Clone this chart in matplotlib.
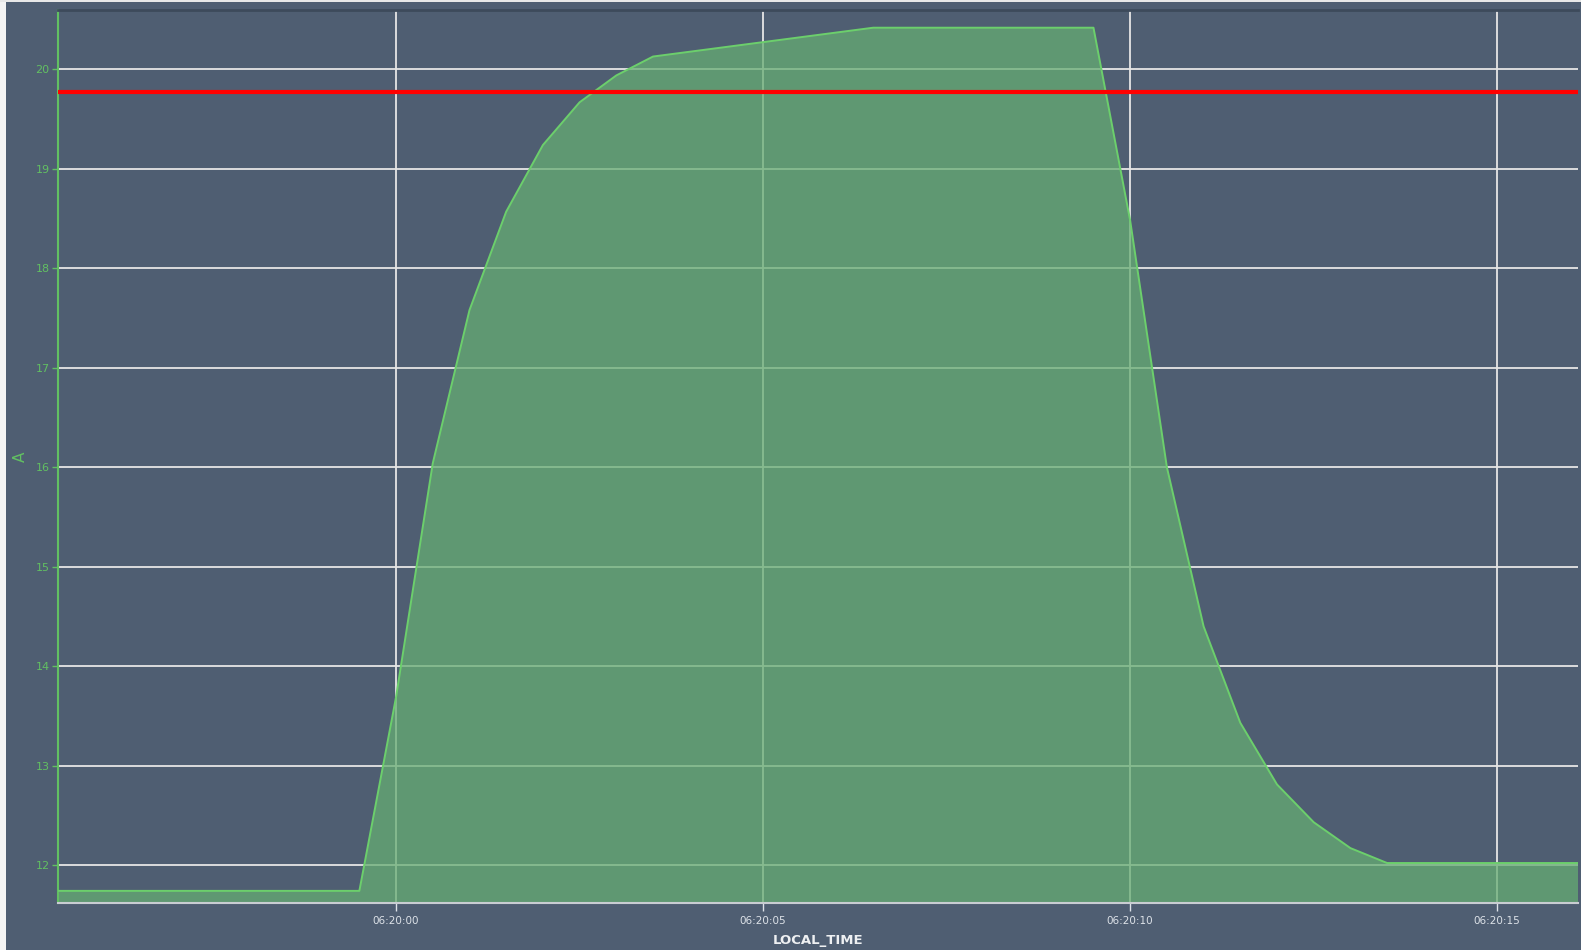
import datetime as dt
import matplotlib
matplotlib.use("Agg")
import matplotlib.pyplot as plt
import matplotlib.dates as mdates
from matplotlib.patches import Rectangle

# seconds relative to 06:20:00 and current values (A)
t_sec = [-5.0, -0.5, 0.0, 0.5, 1.0, 1.5, 2.0, 2.5, 3.0, 3.5, 6.5, 9.5,
         10.0, 10.5, 11.0, 11.5, 12.0, 12.5, 13.0, 13.5, 16.5]
amps = [11.74, 11.74, 13.69, 16.04, 17.58, 18.57, 19.24, 19.67, 19.94, 20.13, 20.42, 20.42,
        18.48, 16.00, 14.40, 13.43, 12.81, 12.43, 12.17, 12.02, 12.02]
limit = 19.77
y_ticks = [12, 13, 14, 15, 16, 17, 18, 19, 20]

base = dt.datetime(2024, 1, 1, 6, 20, 0)
times = [base + dt.timedelta(seconds=s) for s in t_sec]

bg = "#4f5e72"
green = "#6ccf6c"
tick_green = "#62c062"

fig = plt.figure(figsize=(15.81, 9.5), dpi=100, facecolor=bg)
ax = fig.add_axes([58 / 1581, 47 / 950, 1520 / 1581, 893 / 950])
ax.set_facecolor(bg)

# white strip at left / top edge of the window
fig.patches.append(Rectangle((0, 0), 6 / 1581, 1, transform=fig.transFigure,
                             facecolor="#f4f4f4", edgecolor="none", zorder=0))
fig.patches.append(Rectangle((0, 1 - 2 / 950), 1, 2 / 950, transform=fig.transFigure,
                             facecolor="#e8e8e8", edgecolor="none", zorder=0))

ax.grid(True, color="#e6e6e6", linewidth=1.3, zorder=1)
ax.set_axisbelow(True)

ax.fill_between(times, amps, 0, color="#66ad72", alpha=0.74, linewidth=0, zorder=2)
ax.plot(times, amps, color=green, linewidth=1.4, zorder=3)
ax.axhline(limit, color="#ff0000", linewidth=3, zorder=4)

ax.set_xlim(base + dt.timedelta(seconds=-4.605), base + dt.timedelta(seconds=16.10))
ax.set_ylim(11.618, 20.598)
ax.set_yticks(y_ticks)
ax.xaxis.set_major_locator(mdates.SecondLocator(bysecond=range(0, 60, 5)))
ax.xaxis.set_major_formatter(mdates.DateFormatter("%H:%M:%S"))

ax.tick_params(axis="y", colors=tick_green, labelsize=8, length=4, width=1, pad=2)
ax.tick_params(axis="x", colors="#dde2e8", labelsize=7.5, length=6, width=1, pad=3)

ax.spines["right"].set_visible(False)
ax.spines["top"].set_color("#3d4a5b")
ax.spines["top"].set_linewidth(2)
ax.spines["left"].set_color(tick_green)
ax.spines["left"].set_linewidth(1.5)
ax.spines["bottom"].set_color("#c9cdd2")
ax.spines["bottom"].set_linewidth(1.5)

ax.set_xlabel("LOCAL_TIME", color="#eef0f2", fontsize=9.5, fontweight="bold")
ax.xaxis.set_label_coords(0.5, -31 / 893)
ax.set_ylabel("A", color=tick_green, fontsize=11)
ax.yaxis.set_label_coords(-30 / 1520, 0.5)

fig.savefig("out.png", dpi=100, facecolor=bg)
